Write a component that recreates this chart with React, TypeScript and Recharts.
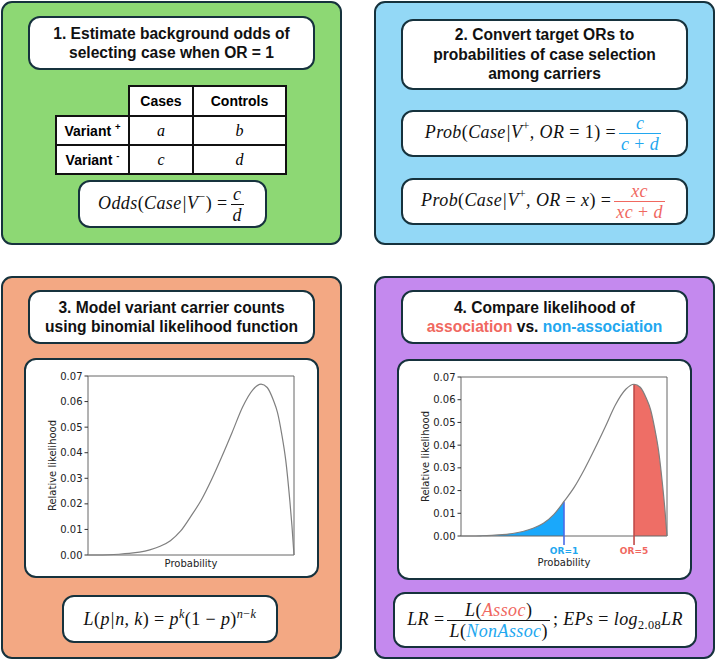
import React from 'react';
import {
  Area,
  ComposedChart,
  Line,
  ReferenceArea,
  ReferenceLine,
  XAxis,
  YAxis,
} from 'recharts';

// Relative likelihood curve (same curve in panels 3 and 4)
const probability = [
  0, 0.05, 0.1, 0.15, 0.2, 0.25, 0.3, 0.35, 0.4, 0.45, 0.5, 0.55, 0.6, 0.65, 0.7, 0.75,
  0.8, 0.84, 0.87, 0.9, 0.92, 0.94, 0.96, 0.98, 0.99, 1,
];
const likelihood = [
  0, 0, 0.0001, 0.0003, 0.0006, 0.0011, 0.002, 0.0034, 0.0056, 0.0094, 0.0152, 0.0215,
  0.0295, 0.0385, 0.048, 0.0578, 0.0646, 0.0668, 0.0655, 0.0605, 0.0557, 0.0475, 0.037,
  0.021, 0.0115, 0,
];
const yTicks = [0, 0.01, 0.02, 0.03, 0.04, 0.05, 0.06, 0.07];
const orValues = [0.5, 0.84];
const orLabels = ['OR=1', 'OR=5'];

// 2x2 table
const tableCols = ['Cases', 'Controls'];
const tableRows = ['Variant', 'Variant'];
const tableRowSigns = ['+', '-'];
const tableCells = [
  ['a', 'b'],
  ['c', 'd'],
];

const BORDER = '#16323d';
const BLUE = '#22a7ef';
const RED = '#f0685f';
const SANS = '"Liberation Sans", Arial, sans-serif';
const SERIF = '"Liberation Serif", "Times New Roman", serif';
const MPL = '"DejaVu Sans", sans-serif';

type BoxProps = {
  left: number;
  top: number;
  width: number;
  height: number;
  bg?: string;
  radius?: number;
  children?: React.ReactNode;
};

function Box({ left, top, width, height, bg = '#fff', radius = 12, children }: BoxProps) {
  return (
    <div
      style={{
        position: 'absolute',
        left,
        top,
        width,
        height,
        boxSizing: 'border-box',
        border: `2.5px solid ${BORDER}`,
        borderRadius: radius,
        background: bg,
        display: 'flex',
        flexDirection: 'column',
        alignItems: 'center',
        justifyContent: 'center',
      }}
    >
      {children}
    </div>
  );
}

const titleStyle: React.CSSProperties = {
  fontFamily: SANS,
  fontWeight: 700,
  fontSize: 15.6,
  lineHeight: '19.5px',
  textAlign: 'center',
  color: '#111',
};

const mathStyle: React.CSSProperties = {
  fontFamily: SERIF,
  fontStyle: 'italic',
  fontSize: 18,
  letterSpacing: 0.4,
  lineHeight: 'normal',
  color: '#111',
  whiteSpace: 'nowrap',
  textAlign: 'center',
};

function Up({ children }: { children: React.ReactNode }) {
  return <span style={{ fontStyle: 'normal' }}>{children}</span>;
}

function Sup({ children }: { children: React.ReactNode }) {
  return (
    <sup style={{ fontSize: '0.68em', lineHeight: 0, verticalAlign: '0.6em', fontStyle: 'normal' }}>
      {children}
    </sup>
  );
}

function Frac({ num, den, color = '#111' }: { num: React.ReactNode; den: React.ReactNode; color?: string }) {
  return (
    <span
      style={{
        display: 'inline-flex',
        flexDirection: 'column',
        alignItems: 'center',
        verticalAlign: 'middle',
        margin: '0 3px',
        color,
      }}
    >
      <span style={{ lineHeight: '18px', padding: '0 2px 1px' }}>{num}</span>
      <span style={{ alignSelf: 'stretch', borderTop: `1.4px solid ${color}` }} />
      <span style={{ lineHeight: '18px', padding: '1px 2px 0' }}>{den}</span>
    </span>
  );
}

function YLabel(props: any) {
  const vb = props.viewBox;
  const cx = vb.x + 8.5;
  const cy = vb.y + vb.height / 2;
  return (
    <text
      x={cx}
      y={cy}
      transform={`rotate(-90 ${cx} ${cy})`}
      textAnchor="middle"
      dominantBaseline="central"
      fontFamily={MPL}
      fontSize={10}
      fill="#222"
    >
      Relative likelihood
    </text>
  );
}

function makeXLabel(dy: number) {
  return function XLabel(props: any) {
    const vb = props.viewBox;
    return (
      <text x={vb.x + vb.width / 2} y={vb.y + dy} textAnchor="middle" fontFamily={MPL} fontSize={10} fill="#222">
        Probability
      </text>
    );
  };
}

const OR_TEXT = [BLUE, RED];
const OR_LINE = ['#4a6be8', '#c04a48'];

function OrTick(props: any) {
  const { x, y, payload } = props;
  const i = orValues.indexOf(payload.value);
  return (
    <g>
      <line x1={x} x2={x} y1={y} y2={y + 9} stroke={OR_LINE[i]} strokeWidth={1.6} />
      <text x={x} y={y + 18} textAnchor="middle" fontFamily={MPL} fontWeight="bold" fontSize={9} fill={OR_TEXT[i]}>
        {orLabels[i]}
      </text>
    </g>
  );
}

function LikelihoodChart({ regions, height, axisHeight, labelDy }: { regions: boolean; height: number; axisHeight: number; labelDy: number }) {
  const data = probability.map((p, i) => ({
    p,
    value: likelihood[i],
    nonAssoc: p <= orValues[0] ? likelihood[i] : null,
    assoc: p >= orValues[1] ? likelihood[i] : null,
  }));
  const XLabel = makeXLabel(labelDy);
  return (
    <ComposedChart width={295} height={height} data={data} margin={{ top: 18, right: 25, bottom: 0, left: 20 }}>
      <XAxis
        dataKey="p"
        type="number"
        domain={[0, 1]}
        ticks={regions ? orValues : undefined}
        tick={regions ? <OrTick /> : false}
        tickSize={0}
        tickMargin={0}
        tickLine={false}
        axisLine={false}
        height={axisHeight}
        label={<XLabel />}
      />
      <YAxis
        type="number"
        domain={[0, 0.07]}
        ticks={yTicks}
        tickFormatter={(v: number) => v.toFixed(2)}
        width={44}
        tickSize={3.5}
        tickMargin={2}
        axisLine={false}
        tickLine={{ stroke: '#333' }}
        tick={{ fontSize: 10, fontFamily: MPL, fill: '#222' }}
        label={<YLabel />}
      />
      {regions && (
        <Area type="monotone" dataKey="nonAssoc" stroke="none" fill="#1aa8fb" fillOpacity={1} isAnimationActive={false} />
      )}
      {regions && (
        <Area type="monotone" dataKey="assoc" stroke="none" fill="#ee6e66" fillOpacity={1} isAnimationActive={false} />
      )}
      {regions &&
        orValues.map((v, i) => (
          <ReferenceLine
            key={v}
            segment={[
              { x: v, y: 0 },
              { x: v, y: likelihood[probability.indexOf(v)] },
            ]}
            stroke={OR_LINE[i]}
            strokeWidth={1.6}
          />
        ))}
      <Line type="monotone" dataKey="value" stroke="#7f7f7f" strokeWidth={1.2} dot={false} isAnimationActive={false} />
      <ReferenceArea x1={0} x2={1} y1={0} y2={0.07} fill="none" stroke="#666" strokeWidth={1} />
    </ComposedChart>
  );
}

function Table() {
  const cell: React.CSSProperties = {
    border: '2px solid #111',
    background: '#fff',
    textAlign: 'center',
    padding: 0,
    height: 27,
  };
  const head: React.CSSProperties = { ...cell, fontFamily: SANS, fontWeight: 700, fontSize: 14 };
  const val: React.CSSProperties = { ...cell, fontFamily: SERIF, fontStyle: 'italic', fontSize: 16 };
  return (
    <table
      style={{
        position: 'absolute',
        left: 55,
        top: 85,
        width: 230,
        borderCollapse: 'collapse',
        tableLayout: 'fixed',
      }}
    >
      <colgroup>
        <col style={{ width: 73 }} />
        <col style={{ width: 64 }} />
        <col style={{ width: 93 }} />
      </colgroup>
      <tbody>
        <tr>
          <td style={{ border: 'none', height: 27 }} />
          {tableCols.map((c) => (
            <td key={c} style={head}>
              {c}
            </td>
          ))}
        </tr>
        {tableRows.map((r, i) => (
          <tr key={i}>
            <td style={head}>
              {r} <Sup>{tableRowSigns[i]}</Sup>
            </td>
            {tableCells[i].map((v) => (
              <td key={v} style={val}>
                {v}
              </td>
            ))}
          </tr>
        ))}
      </tbody>
    </table>
  );
}

export default function App() {
  return (
    <div style={{ position: 'relative', width: 716, height: 660, background: '#fff', overflow: 'hidden' }}>
      <style>{'body{margin:0}'}</style>

      {/* Panel 1 */}
      <Box left={1} top={1} width={341} height={244} bg="#8dd874" radius={11} />
      <Box left={28} top={16} width={287} height={54}>
        <div style={titleStyle}>
          1. Estimate background odds of
          <br />
          selecting case when OR = 1
        </div>
      </Box>
      <Table />
      <Box left={78} top={180} width={189} height={48}>
        <div style={mathStyle}>
          Odds<Up>(</Up>Case|V<Sup>−</Sup><Up>)&nbsp;=</Up>
          <Frac num="c" den="d" />
        </div>
      </Box>

      {/* Panel 2 */}
      <Box left={374} top={1} width={341} height={244} bg="#93d8f6" radius={11} />
      <Box left={401} top={19} width={287} height={71}>
        <div style={titleStyle}>
          2. Convert target ORs to
          <br />
          probabilities of case selection
          <br />
          among carriers
        </div>
      </Box>
      <Box left={401} top={110} width={287} height={47}>
        <div style={mathStyle}>
          Prob<Up>(</Up>Case|V<Sup>+</Sup>, OR<Up>&nbsp;=&nbsp;1)&nbsp;=</Up>
          <Frac num="c" den={<>c <Up>+</Up> d</>} color={BLUE} />
        </div>
      </Box>
      <Box left={401} top={178} width={287} height={47}>
        <div style={mathStyle}>
          Prob<Up>(</Up>Case|V<Sup>+</Sup>, OR<Up>&nbsp;=&nbsp;</Up>x<Up>)&nbsp;=</Up>
          <Frac num="xc" den={<>xc <Up>+</Up> d</>} color={RED} />
        </div>
      </Box>

      {/* Panel 3 */}
      <Box left={1} top={276} width={341} height={383} bg="#f3a883" radius={11} />
      <Box left={28} top={290} width={287} height={54}>
        <div style={titleStyle}>
          3. Model variant carrier counts
          <br />
          using binomial likelihood function
        </div>
      </Box>
      <Box left={24} top={358} width={295} height={220} />
      <div style={{ position: 'absolute', left: 24, top: 358 }}>
        <LikelihoodChart regions={false} height={220} axisHeight={23} labelDy={12} />
      </div>
      <Box left={62} top={595} width={216} height={48}>
        <div style={mathStyle}>
          L<Up>(</Up>p|n,&nbsp;k<Up>)&nbsp;=&nbsp;</Up>p<Sup><i>k</i></Sup>
          <Up>(1&nbsp;−&nbsp;</Up>p<Up>)</Up>
          <Sup>
            <i>n</i>−<i>k</i>
          </Sup>
        </div>
      </Box>

      {/* Panel 4 */}
      <Box left={374} top={276} width={341} height={383} bg="#c489ee" radius={11} />
      <Box left={401} top={290} width={287} height={54}>
        <div style={titleStyle}>
          4. Compare likelihood of
          <br />
          <span style={{ color: RED }}>association</span> vs.{' '}
          <span style={{ color: BLUE }}>non-association</span>
        </div>
      </Box>
      <Box left={397} top={359} width={295} height={221} />
      <div style={{ position: 'absolute', left: 397, top: 359 }}>
        <LikelihoodChart regions height={221} axisHeight={44} labelDy={30} />
      </div>
      <Box left={393} top={592} width={304} height={56}>
        <div style={mathStyle}>
          LR<Up>&nbsp;=</Up>
          <Frac
            num={
              <>
                L<Up>(</Up>
                <span style={{ color: RED }}>Assoc</span>
                <Up>)</Up>
              </>
            }
            den={
              <>
                L<Up>(</Up>
                <span style={{ color: BLUE }}>NonAssoc</span>
                <Up>)</Up>
              </>
            }
          />
          <Up>;&nbsp;</Up>EPs<Up>&nbsp;=&nbsp;</Up>log
          <sub style={{ fontSize: '0.68em', fontStyle: 'normal', lineHeight: 0, verticalAlign: '-0.35em' }}>2.08</sub>
          LR
        </div>
      </Box>
    </div>
  );
}
